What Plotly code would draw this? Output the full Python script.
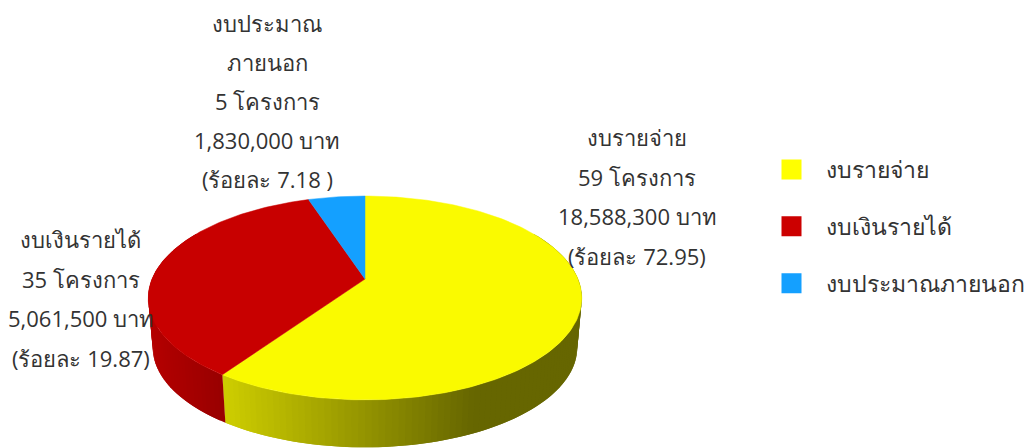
import math
import plotly.graph_objects as go

categories = ["งบรายจ่าย", "งบเงินรายได้", "งบประมาณภายนอก"]
project_counts = [59, 35, 5]
budgets_baht = ["18,588,300", "5,061,500", "1,830,000"]
percents = ["(ร้อยละ 72.95)", "(ร้อยละ 19.87)", "(ร้อยละ 7.18 )"]
label_names = [["งบรายจ่าย"], ["งบเงินรายได้"], ["งบประมาณ", "ภายนอก"]]
top_colors = ["#FAFA00", "#C80000", "#14A0FF"]
legend_colors = ["#FFFF00", "#CC0000", "#14A0FF"]

# projection of the pie onto the page (page pixels)
CX, CY, A, B, K = 365, 279, 213, 98.4, 0.186
DEPTH_SCALE, DEPTH_SHIFT = 0.979, 50
FONT = "Open Sans, Noto Sans, sans-serif"
TEXT = "#333333"


def project(theta, lower=False):
    sx, cy_ = math.sin(theta), math.cos(theta)
    w = 1 + K * cy_
    x, y = A * sx / w, -B * cy_ / w
    if lower:
        return CX + x * DEPTH_SCALE, CY + DEPTH_SHIFT + y * DEPTH_SCALE
    return CX + x, CY + y


def mix(c0, c1, t):
    t = max(0, min(1, t))
    return "rgb(" + ",".join(str(round(a + (b - a) * t)) for a, b in zip(c0, c1)) + ")"


def side_color(i, x):
    if i == 0:
        return mix((204, 204, 0), (102, 102, 0), (x - 226) / (470 - 226))
    if i == 1:
        return mix((180, 0, 0), (150, 0, 0), (x - 152) / (226 - 152))
    return "#0C60A0"


total = sum(project_counts)
fig = go.Figure()

# wedge limits, clockwise from twelve o'clock
limits = []
start = 0.0
for v in project_counts:
    end = start + v / total * 2 * math.pi
    limits.append((start, end))
    start = end

# rim, drawn in overlapping strips so it can carry the shading without seams
STEP = math.radians(1.5)
for i, (a0, a1) in enumerate(limits):
    t = max(a0, math.radians(60))
    stop = min(a1, math.radians(300))
    # the left part of the rim is painted right-to-left on screen when angles rise,
    # each strip reaches over the next one's start
    while t < stop:
        t2 = min(t + STEP, stop)
        t3 = min(t + 2 * STEP, stop)
        p = [project(t), project(t3), project(t3, lower=True), project(t, lower=True)]
        xs = [q[0] for q in p] + [p[0][0]]
        ys = [q[1] for q in p] + [p[0][1]]
        col = side_color(i, sum(xs[:4]) / 4)
        fig.add_trace(go.Scatter(x=xs, y=ys, mode="lines", fill="toself", fillcolor=col,
                                 line=dict(color=col, width=0), hoverinfo="skip", showlegend=False))
        t = t2

# top face
for i, (a0, a1) in enumerate(limits):
    n = max(2, int((a1 - a0) / math.radians(1)))
    pts = [project(a0 + (a1 - a0) * j / n) for j in range(n + 1)]
    xs = [CX] + [q[0] for q in pts] + [CX]
    ys = [CY] + [q[1] for q in pts] + [CY]
    fig.add_trace(go.Scatter(x=xs, y=ys, mode="lines", fill="toself", fillcolor=top_colors[i],
                             line=dict(color=top_colors[i], width=0.5), name=categories[i],
                             hovertext=categories[i], hoverinfo="text", showlegend=False))

# legend entries
for i, c in enumerate(categories):
    fig.add_trace(go.Scatter(x=[None], y=[None], mode="markers", name=c, legendgroup=c,
                             marker=dict(symbol="square", size=16, color=legend_colors[i],
                                         line=dict(color=legend_colors[i], width=4))))

# data labels, one annotation per line to hold the wide line spacing
label_anchor = [(637, 137, 39.5), (80.5, 239, 39.5), (267, 23, 39)]
for i in range(3):
    lines = label_names[i] + [f"{project_counts[i]} โครงการ", f"{budgets_baht[i]} บาท", percents[i]]
    x0, y0, dy = label_anchor[i]
    for j, line in enumerate(lines):
        fig.add_annotation(x=x0, y=y0 + j * dy, text=line, showarrow=False, xanchor="center",
                           yanchor="middle", font=dict(family=FONT, size=22, color=TEXT))

fig.update_layout(
    width=1034, height=448, margin=dict(l=0, r=0, t=0, b=0),
    paper_bgcolor="white", plot_bgcolor="white",
    xaxis=dict(range=[0, 1034], visible=False, fixedrange=True),
    yaxis=dict(range=[448, 0], visible=False, fixedrange=True),
    font=dict(family=FONT, size=23, color=TEXT),
    legend=dict(x=757 / 1034, y=1 - 148 / 448, xanchor="left", yanchor="top",
                tracegroupgap=24, itemwidth=59, bgcolor="rgba(0,0,0,0)"),
)
fig.write_html("out.html", config=dict(displayModeBar=False),
               post_script="document.body.style.margin='0';document.body.style.overflow='hidden';")
